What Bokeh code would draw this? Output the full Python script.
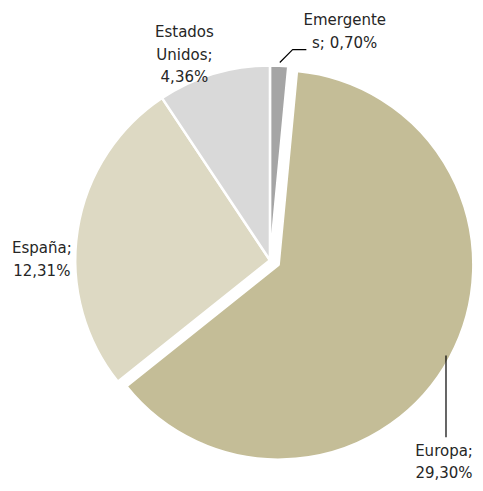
import math
from bokeh.plotting import figure
from bokeh.models import Range1d
from bokeh.core.properties import value
from bokeh.embed import file_html
from bokeh.resources import INLINE

# Data
categories = ["Emergentes", "Europa", "España", "Estados Unidos"]
values = [0.70, 29.30, 12.31, 4.36]
labels = [["Emergente", "s; 0,70%"], ["Europa;", "29,30%"], ["España;", "12,31%"], ["Estados", "Unidos;", "4,36%"]]
colors = ["#A5A5A5", "#C4BD97", "#DDD9C3", "#D9D9D9"]
explode = [0, 10, 0, 0]

W, H = 475, 483
p = figure(width=W, height=H, output_backend="svg", toolbar_location=None,
           x_range=Range1d(0, 483), y_range=Range1d(-491, 0), min_border=0)
p.axis.visible = False
p.grid.visible = False
p.outline_line_color = None
p.background_fill_color = "white"

cx, cy, R = 274, -264, 198
total = sum(values)
cum = 0.0
for v, c, e in zip(values, colors, explode):
    a0 = math.pi / 2 - 2 * math.pi * cum / total
    cum += v
    a1 = math.pi / 2 - 2 * math.pi * cum / total
    mid = (a0 + a1) / 2
    x = cx + e * math.cos(mid)
    y = cy + e * math.sin(mid)
    p.wedge(x=[x], y=[y], radius=R, start_angle=a0, end_angle=a1, direction="clock",
            fill_color=c, line_color="white", line_width=2.5)

# leader lines
p.line(x=[284, 297, 311], y=[-63, -50, -50], line_color="black", line_width=1.2)
p.line(x=[453, 453], y=[-361, -444], line_color="black", line_width=1.2)

font = value("DejaVu Sans")
label_pos = [(350, -20, 23), (451, -458, 22), (42, -252, 23), (187, -32, 23)]
for lab, (lx, ly, lh) in zip(labels, label_pos):
    for i, t in enumerate(lab):
        p.text(x=[lx], y=[ly - i * lh], text=[t], text_align="center", text_baseline="middle",
               text_font=font, text_font_size="15px", text_color="#262626")

open("out.html", "w").write(file_html(p, INLINE))
